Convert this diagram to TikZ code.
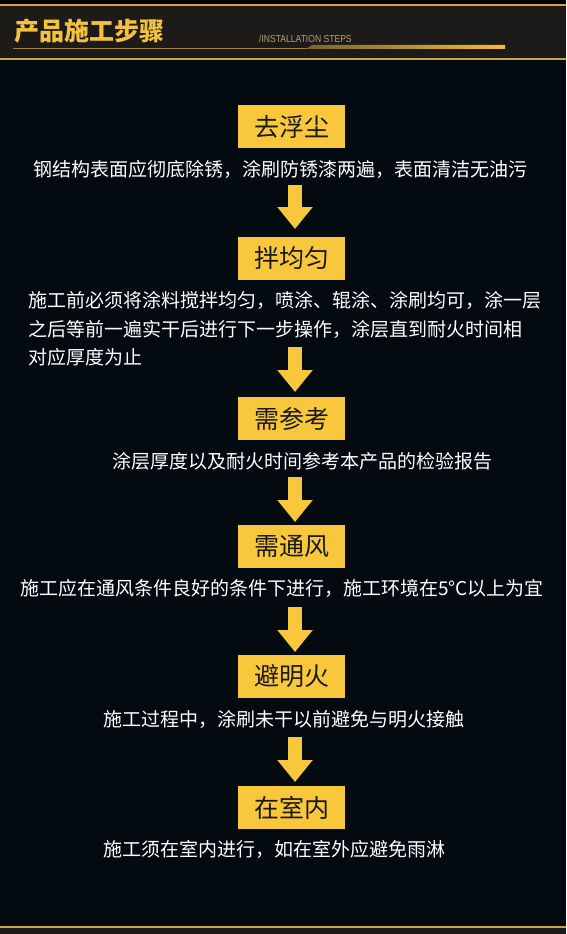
\documentclass[tikz,border=0pt]{standalone}
\usepackage{fontspec}
\setmainfont{Noto Sans CJK SC}
\newfontfamily\latinfont{Liberation Sans}
\usetikzlibrary{arrows.meta}
\definecolor{bgc}{HTML}{030A10}
\definecolor{hdrc}{HTML}{1C1B1A}
\definecolor{goldc}{HTML}{C9A548}
\definecolor{titlec}{HTML}{F4C23F}
\definecolor{boxc}{HTML}{F9C73C}
\definecolor{subc}{HTML}{B9A170}
\tikzset{
  stepbox/.style={fill=boxc, minimum width=107pt, minimum height=43pt, inner sep=0pt,
    font=\fontsize{25}{25}\selectfont, text=black!90},
  desc/.style={text=white, inner sep=0pt, font=\fontsize{19}{19}\selectfont},
  fatarrow/.style={draw=boxc, line width=14pt, line cap=butt,
    -{Triangle[width=34pt, length=22pt, fill=boxc]}}
}
\begin{document}
\begin{tikzpicture}[x=1pt,y=-1pt]
\useasboundingbox (0,0) rectangle (566,934);
% backgrounds
\fill[bgc] (0,0) rectangle (566,934);
\fill[black] (0,0) rectangle (566,5);
\fill[hdrc] (0,5) rectangle (566,59);
\fill[hdrc] (0,927) rectangle (566,934);
\draw[goldc, line width=1.5pt] (0,5) -- (566,5);
\draw[goldc, line width=1.5pt] (0,59) -- (566,59);
\draw[goldc, line width=2pt] (0,927) -- (566,927);
% header
\node[anchor=west, inner sep=0pt, text=titlec, font=\fontsize{25}{25}\selectfont\bfseries] (title) at (14,31) {产品施工步骤};
\node[anchor=west, inner sep=0pt, text=subc, font=\latinfont\fontsize{10.2}{10.2}\selectfont, xscale=0.84] (sub) at (259,38.5) {/INSTALLATION STEPS};
\draw[goldc!80!black, line width=0.9pt] (13,48.5) -- (310,48.5);
\shade[left color=goldc!60!black, middle color=titlec, right color=titlec!90!orange] (306,49) -- (312,45) -- (505,45) -- (505,49) -- cycle;
% steps
\node[stepbox] (b1) at (291.5,126.5) {去浮尘};
\node[desc, anchor=west] (t1) at (33,169) {钢结构表面应彻底除锈，涂刷防锈漆两遍，表面清洁无油污};
\coordinate (a1s) at (295,185);
\coordinate (a1e) at (295,229);
\draw[fatarrow] (a1s) -- (a1e);

\node[stepbox] (b2) at (291.5,258.5) {拌均匀};
\node[desc, anchor=west] (p1) at (28,300) {施工前必须将涂料搅拌均匀，喷涂、辊涂、涂刷均可，涂一层};
\node[desc, anchor=west] (p2) at (28,329) {之后等前一遍实干后进行下一步操作，涂层直到耐火时间相};
\node[desc, anchor=west] (p3) at (28,357) {对应厚度为止};
\coordinate (a2s) at (295,347);
\coordinate (a2e) at (295,392);
\draw[fatarrow] (a2s) -- (a2e);

\node[stepbox] (b3) at (291.5,418.5) {需参考};
\node[desc, anchor=west] (t3) at (112,461) {涂层厚度以及耐火时间参考本产品的检验报告};
\coordinate (a3s) at (295,477);
\coordinate (a3e) at (295,522);
\draw[fatarrow] (a3s) -- (a3e);

\node[stepbox] (b4) at (291.5,546.5) {需通风};
\node[desc, anchor=west] (t4) at (20,588) {施工应在通风条件良好的条件下进行，施工环境在5°C以上为宜};
\coordinate (a4s) at (295,607);
\coordinate (a4e) at (295,652);
\draw[fatarrow] (a4s) -- (a4e);

\node[stepbox] (b5) at (291.5,676.5) {避明火};
\node[desc, anchor=west] (t5) at (103,719) {施工过程中，涂刷未干以前避免与明火接触};
\coordinate (a5s) at (295,737);
\coordinate (a5e) at (295,782);
\draw[fatarrow] (a5s) -- (a5e);

\node[stepbox] (b6) at (291.5,807.5) {在室内};
\node[desc, anchor=west] (t6) at (103,849) {施工须在室内进行，如在室外应避免雨淋};
\end{tikzpicture}
\end{document}
